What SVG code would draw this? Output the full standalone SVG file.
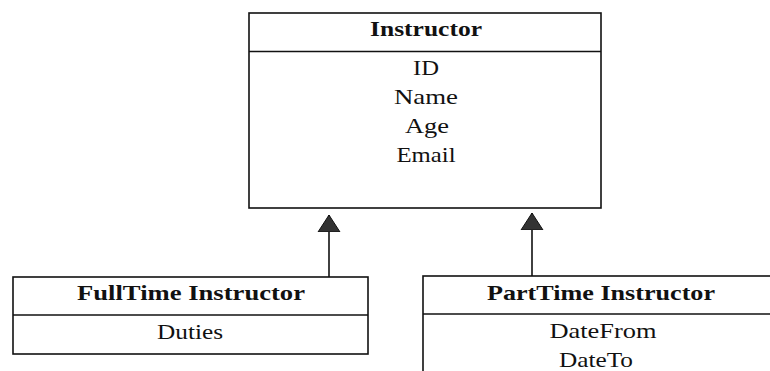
<svg xmlns="http://www.w3.org/2000/svg" width="770" height="371" viewBox="0 0 770 371">
  <style>
    .box { fill: #ffffff; stroke: #111111; stroke-width: 1.6; }
    .div { stroke: #111111; stroke-width: 1.6; }
    .hdr { font-family: "Liberation Serif", "Times New Roman", serif; font-size: 21px; font-weight: bold; fill: #111111; text-anchor: middle; }
    .att { font-family: "Liberation Serif", "Times New Roman", serif; font-size: 21px; fill: #111111; text-anchor: middle; }
    .conn { stroke: #111111; stroke-width: 1.6; fill: none; }
  </style>
  <defs>
    <marker id="inherit" markerUnits="userSpaceOnUse" markerWidth="18" markerHeight="24" viewBox="0 0 18 24" refX="17" refY="12" orient="auto">
      <path d="M0,1 L17,12 L0,23 Z" fill="#333333" stroke="#111111" stroke-width="1"/>
    </marker>
  </defs>
  <rect width="770" height="371" fill="#ffffff"/>

  <g id="instructor">
    <rect class="box" x="249" y="13" width="352" height="195"/>
    <line class="div" x1="249" y1="51.5" x2="601" y2="51.5"/>
    <text class="hdr" x="426" y="36" textLength="112" lengthAdjust="spacingAndGlyphs">Instructor</text>
    <text class="att" x="426" y="75" textLength="26" lengthAdjust="spacingAndGlyphs">ID</text>
    <text class="att" x="426" y="104" textLength="64" lengthAdjust="spacingAndGlyphs">Name</text>
    <text class="att" x="427" y="133" textLength="44" lengthAdjust="spacingAndGlyphs">Age</text>
    <text class="att" x="426" y="162" textLength="59" lengthAdjust="spacingAndGlyphs">Email</text>
  </g>

  <g id="fulltime">
    <rect class="box" x="13" y="277" width="355" height="77"/>
    <line class="div" x1="13" y1="315" x2="368" y2="315"/>
    <text class="hdr" x="191" y="300" textLength="228" lengthAdjust="spacingAndGlyphs">FullTime Instructor</text>
    <text class="att" x="190" y="339" textLength="66" lengthAdjust="spacingAndGlyphs">Duties</text>
  </g>

  <g id="parttime">
    <rect class="box" x="423" y="276" width="360" height="110"/>
    <line class="div" x1="423" y1="314" x2="783" y2="314"/>
    <text class="hdr" x="601" y="300" textLength="228" lengthAdjust="spacingAndGlyphs">PartTime Instructor</text>
    <text class="att" x="603" y="338" textLength="107" lengthAdjust="spacingAndGlyphs">DateFrom</text>
    <text class="att" x="596" y="367" textLength="74" lengthAdjust="spacingAndGlyphs">DateTo</text>
  </g>

  <g id="connectors">
    <path class="conn" d="M329,277 L329,215" marker-end="url(#inherit)"/>
    <path class="conn" d="M532,276 L532,213" marker-end="url(#inherit)"/>
  </g>
</svg>
